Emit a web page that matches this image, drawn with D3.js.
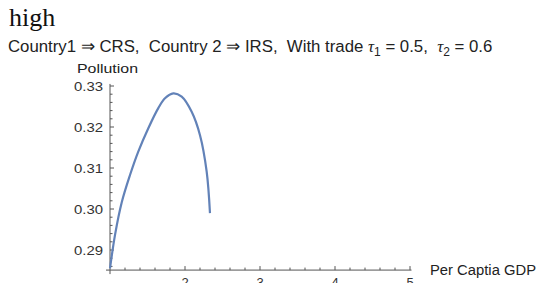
<!DOCTYPE html>
<html><head><meta charset="utf-8">
<script src="https://cdn.jsdelivr.net/npm/d3@7"></script>
<style>
html,body{margin:0;padding:0;background:#fff;}
svg{display:block;}
</style></head>
<body>
<script>
// Data
const gdp = [1.000, 1.067, 1.156, 1.267, 1.377, 1.511, 1.644, 1.733, 1.844, 1.956, 2.089, 2.200, 2.289, 2.333];
const pollution = [0.2855, 0.2937, 0.3016, 0.3083, 0.3140, 0.3197, 0.3246, 0.3270, 0.3282, 0.3274, 0.3237, 0.3180, 0.3091, 0.2990];
const xTicks = [2, 3, 4, 5];
const yTicks = [0.29, 0.30, 0.31, 0.32, 0.33];
const titleText = "high";

const W = 539, H = 283;
const svg = d3.select("body").append("svg").attr("width", W).attr("height", H);

const x = d3.scaleLinear().domain([1, 5]).range([110, 410]);
const y = d3.scaleLinear().domain([0.29, 0.33]).range([250, 86]);
const yMin = 0.2851, yMax = 0.3305, xMax = 5.02;
const sans = "'Liberation Sans',Arial,sans-serif";

// title
svg.append("text").attr("x", 9).attr("y", 26)
  .style("font-family", "'Liberation Serif','DejaVu Serif',serif")
  .style("font-size", "26px").attr("fill", "#111").text(titleText);

// subtitle with subscripts
const sub = svg.append("text").attr("x", 8).attr("y", 52)
  .style("font-family", sans)
  .style("font-size", "16.8px").attr("fill", "#222").style("white-space", "pre");
sub.append("tspan").text("Country1 \u21D2 CRS,  Country\u00A02 \u21D2 IRS,  With\u00A0trade ");
sub.append("tspan").style("font-family", "'Liberation Serif',serif").style("font-style", "italic").text("\u03C4");
sub.append("tspan").attr("dy", 4).style("font-size", "12px").text("1");
sub.append("tspan").attr("dy", -4).text(" = 0.5,  ");
sub.append("tspan").style("font-family", "'Liberation Serif',serif").style("font-style", "italic").text("\u03C4");
sub.append("tspan").attr("dy", 4).style("font-size", "12px").text("2");
sub.append("tspan").attr("dy", -4).text(" = 0.6");

const axisColor = "#555";
const g = svg.append("g");

// axes lines
g.append("line").attr("x1", x(1)).attr("x2", x(xMax)).attr("y1", y(yMin)).attr("y2", y(yMin))
  .attr("stroke", axisColor).attr("stroke-width", 1);
g.append("line").attr("x1", x(1)).attr("x2", x(1)).attr("y1", y(yMin)).attr("y2", y(yMax))
  .attr("stroke", axisColor).attr("stroke-width", 1);

// x ticks
const xMinor = d3.range(1.2, 5.01, 0.2);
xMinor.forEach(v => {
  const major = Math.abs(v - Math.round(v)) < 1e-6;
  g.append("line").attr("x1", x(v)).attr("x2", x(v))
    .attr("y1", y(yMin)).attr("y2", y(yMin) - (major ? 4 : 2.5))
    .attr("stroke", axisColor).attr("stroke-width", 1);
});
g.append("line").attr("x1", x(1)).attr("x2", x(1)).attr("y1", y(yMin)).attr("y2", y(yMin) + 4)
  .attr("stroke", axisColor).attr("stroke-width", 1);
xTicks.forEach(v => {
  g.append("text").attr("x", x(v)).attr("y", y(yMin) + 17).attr("text-anchor", "middle")
    .style("font-family", sans).style("font-size", "13px")
    .attr("fill", "#333").text(v);
});

// y ticks
const yMinor = d3.range(0.286, 0.3306, 0.002);
yMinor.forEach(v => {
  const major = Math.abs(v * 100 - Math.round(v * 100)) < 1e-6;
  g.append("line").attr("x1", x(1)).attr("x2", x(1) + (major ? 4 : 2.5))
    .attr("y1", y(v)).attr("y2", y(v))
    .attr("stroke", axisColor).attr("stroke-width", 1);
});
g.append("line").attr("x1", x(1) - 4).attr("x2", x(1)).attr("y1", y(yMin)).attr("y2", y(yMin))
  .attr("stroke", axisColor).attr("stroke-width", 1);
yTicks.forEach(v => {
  g.append("text").attr("x", x(1) - 7).attr("y", y(v) + 4.5).attr("text-anchor", "end")
    .attr("textLength", 29).attr("lengthAdjust", "spacingAndGlyphs")
    .style("font-family", sans).style("font-size", "12.5px")
    .attr("fill", "#333").text(v.toFixed(2));
});

// axis labels
g.append("text").attr("x", 77).attr("y", 73)
  .attr("textLength", 61).attr("lengthAdjust", "spacingAndGlyphs")
  .style("font-family", sans).style("font-size", "13px")
  .attr("fill", "#222").text("Pollution");
g.append("text").attr("x", 430).attr("y", 275)
  .attr("textLength", 106).attr("lengthAdjust", "spacingAndGlyphs")
  .style("font-family", sans).style("font-size", "14px")
  .attr("fill", "#222").text("Per Captia GDP");

// curve
const pts = gdp.map((d, i) => [d, pollution[i]]);
const line = d3.line().x(d => x(d[0])).y(d => y(d[1])).curve(d3.curveCatmullRom.alpha(0.5));
g.append("path").datum(pts).attr("d", line).attr("fill", "none")
  .attr("stroke", "#6282b8").attr("stroke-width", 2.2);
</script>
</body></html>
